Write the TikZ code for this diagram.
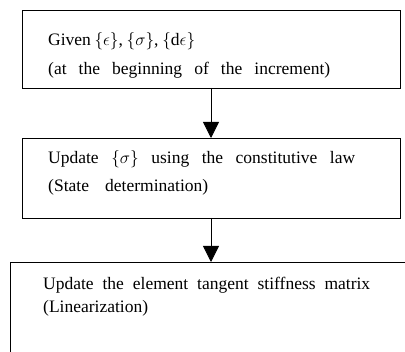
\documentclass[tikz,border=0pt]{standalone}
\usepackage{fontspec}
\setmainfont{Liberation Serif}
\usetikzlibrary{arrows.meta}
\tikzset{
  txt/.style={anchor=base west, inner sep=0pt, font=\fontsize{17.5}{21}\selectfont},
  boxline/.style={draw=black, line width=0.9pt},
  flowarrow/.style={draw=black, line width=0.8pt, -{Triangle[width=16pt,length=16pt]}}
}
\newcommand{\sline}[2]{\makebox[#1][s]{#2}}
\begin{document}
\begin{tikzpicture}[x=1pt,y=-1pt]
\useasboundingbox (0,0) rectangle (405,352);
% box 1
\draw[boxline] (22,10) rectangle (400,88);
\coordinate (b1b) at (211,88);
\node[txt] (t11) at (48,46) {\sline{147pt}{Given $\{\epsilon\}$, $\{\sigma\}$, $\{\mathrm{d}\epsilon\}$}};
\node[txt] (t12) at (48,75) {\sline{282pt}{(at the beginning of the increment)}};
% box 2
\draw[boxline] (22,138) rectangle (400,218);
\coordinate (b2t) at (211,138);
\coordinate (b2b) at (211,218);
\node[txt] (t21) at (48,164) {\sline{307pt}{Update $\{\sigma\}$ using the constitutive law}};
\node[txt] (t22) at (48,192) {\sline{160pt}{(State determination)}};
% box 3 (cut off)
\draw[boxline] (10,352) -- (10,262) -- (405,262);
\coordinate (b3t) at (211,262);
\node[txt] (t31) at (43,290) {\sline{327pt}{Update the element tangent stiffness matrix}};
\node[txt] (t32) at (43,313) {(Linearization)};
% arrows
\draw[flowarrow] (b1b) -- (b2t);
\draw[flowarrow] (b2b) -- (b3t);
\end{tikzpicture}
\end{document}
